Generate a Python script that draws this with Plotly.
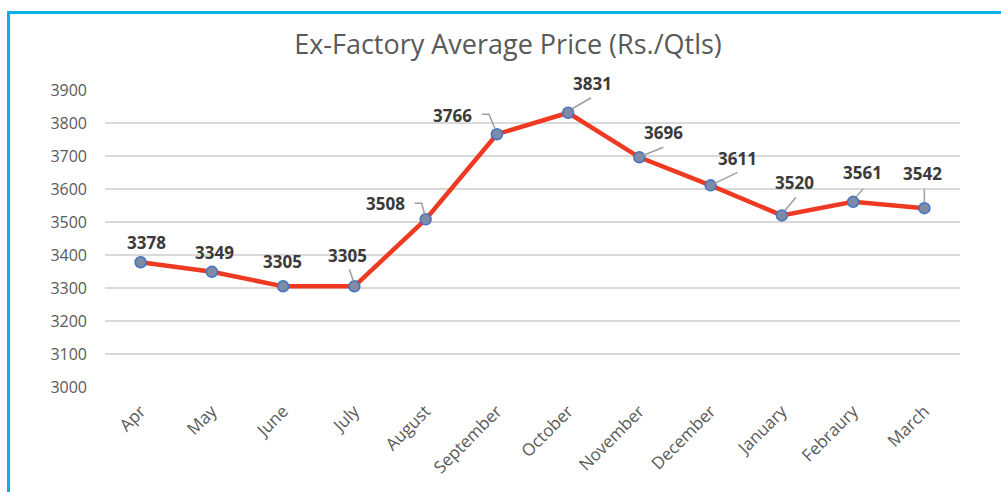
import plotly.graph_objects as go

months = ["Apr", "May", "June", "July", "August", "September", "October",
          "November", "December", "January", "Febraury", "March"]
prices = [3378, 3349, 3305, 3305, 3508, 3766, 3831, 3696, 3611, 3520, 3561, 3542]
y_ticks = [3000, 3100, 3200, 3300, 3400, 3500, 3600, 3700, 3800, 3900]

# label offsets in pixels (dx right, dy up) relative to each point
label_dx = [6, 3, -1, -7, -40, -44, 24, 24, 27, 13, 9, -2]
label_dy = [20, 19, 25, 31, 16, 19, 29, 25, 27, 33, 29, 35]
# leader lines (pixel offsets, screen y down) per point index
leaders = {
    3: [(-5, -17), (-1, -5)],
    4: [(-11, -16), (-4, -16), (-1, -5)],
    5: [(-15, -20), (-8, -20), (-2, -6)],
    6: [(4, -4), (23, -15)],
    7: [(4, -2), (24, -10)],
    8: [(4, -2), (27, -13)],
    9: [(3, -5), (14, -18)],
    10: [(3, -5), (10, -13)],
    11: [(0, -6), (0, -19)],
}

FONT = "Open Sans"
fig = go.Figure()
fig.add_trace(go.Scatter(
    x=list(range(len(months))), y=prices, mode="lines+markers",
    line=dict(color="#EE3A22", width=4.5),
    marker=dict(size=11, color="#7D8CA3", line=dict(color="#4472C4", width=1.5)),
    hoverinfo="skip", showlegend=False,
))

for i, (m, v) in enumerate(zip(months, prices)):
    fig.add_annotation(x=i, y=v, text=f"<b>{v}</b>", showarrow=False,
                       xshift=label_dx[i], yshift=label_dy[i],
                       font=dict(family=FONT, size=17, color="#3A3A3A"))

for i, pts in leaders.items():
    path = "M " + " L ".join(f"{dx},{-dy}" for dx, dy in pts)
    fig.add_shape(type="path", path=path, xref="x", yref="y",
                  xsizemode="pixel", ysizemode="pixel",
                  xanchor=i, yanchor=prices[i],
                  line=dict(color="#9E9E9E", width=1.5), layer="above")

W, H = 1001, 492
ml, mr, mt, mb = 105, 41, 90, 105
pw, ph = W - ml - mr, H - mt - mb

def px(xp):
    return (xp - ml) / pw

def py(yp):
    return 1 - (yp - mt) / ph

# cyan frame (left and top)
fig.add_shape(type="line", xref="paper", yref="paper",
              x0=px(8.5), x1=px(8.5), y0=py(12.5), y1=py(500),
              line=dict(color="#0DB0E6", width=3))
fig.add_shape(type="line", xref="paper", yref="paper",
              x0=px(7), x1=px(1010), y0=py(12.5), y1=py(12.5),
              line=dict(color="#0DB0E6", width=3))

fig.update_layout(
    width=W, height=H,
    margin=dict(l=ml, r=mr, t=mt, b=mb),
    paper_bgcolor="white", plot_bgcolor="white",
    title=dict(text="Ex-Factory Average Price (Rs./Qtls)", x=508 / W, xanchor="center",
               y=1 - 45 / H, yanchor="middle",
               font=dict(family=FONT, size=27, color="#595959")),
    xaxis=dict(tickmode="array", tickvals=list(range(len(months))), ticktext=months,
               range=[-0.5, len(months) - 0.5], tickangle=-45, showgrid=False,
               zeroline=False, showline=False, ticks="", ticklabelstandoff=10,
               tickfont=dict(family=FONT, size=17, color="#595959")),
    yaxis=dict(tickmode="array", tickvals=y_ticks, range=[3000, 3900],
               showgrid=True, gridcolor="#D9D9D9", gridwidth=1.5, zeroline=False,
               ticks="", ticklabelstandoff=17,
               tickfont=dict(family=FONT, size=16, color="#595959")),
)
fig.update_yaxes(showline=False)
fig.write_html("out.html", config={"displayModeBar": False, "staticPlot": True},
               post_script="document.body.style.margin='0';document.body.style.overflow='hidden';")
